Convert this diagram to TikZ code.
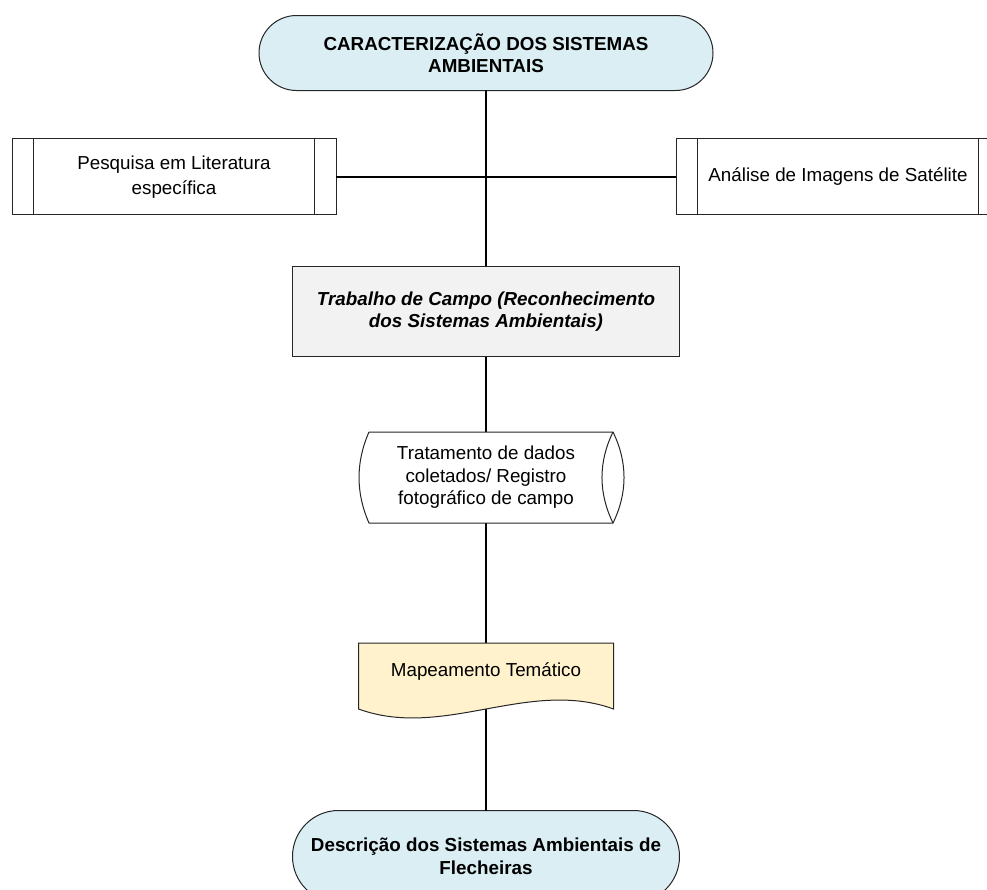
\documentclass[tikz,border=0pt]{standalone}
\usepackage{fontspec}
\setmainfont{Liberation Sans}
\usetikzlibrary{matrix,backgrounds}
\definecolor{termblue}{HTML}{DAEEF3}
\definecolor{campogray}{HTML}{F2F2F2}
\definecolor{mapayellow}{HTML}{FFF2CC}
\newcommand{\fsz}{\fontsize{18.8pt}{22.5pt}\selectfont}

\begin{document}
\begin{tikzpicture}[x=1pt,y=-1pt,
  every node/.style={align=center,inner sep=0pt,outer sep=0pt,font=\fsz},
  borda/.style={draw=black!85,line width=1pt},
  term/.style={borda,fill=termblue,font=\fsz\bfseries},
  predef/.style={borda,fill=white,minimum width=324pt,minimum height=76pt,
    font=\fontsize{18.8pt}{25.5pt}\selectfont,
    path picture={\draw[line width=1pt] ([xshift=21.5pt]path picture bounding box.north west) -- ([xshift=21.5pt]path picture bounding box.south west);
      \draw[line width=1pt] ([xshift=-21.5pt]path picture bounding box.north east) -- ([xshift=-21.5pt]path picture bounding box.south east);}},
  campo/.style={borda,fill=campogray,minimum width=387pt,minimum height=90pt,font=\fsz\bfseries\itshape},
  dados/.style={minimum width=254pt,minimum height=91pt},
  mapa/.style={minimum width=255pt,minimum height=66pt,text depth=12pt},
  liga/.style={draw=black,line width=1.6pt}]
  \useasboundingbox (0,0) rectangle (987,890);
  \matrix (m) [inner sep=0pt,outer sep=0pt,anchor=north] at (486,15) {
  \node[term,minimum width=454pt,minimum height=75pt,rounded corners=37.5pt] (cara) {CARACTERIZAÇÃO DOS SISTEMAS\\AMBIENTAIS}; \\[175pt]
  \node[campo] (campo) {Trabalho de Campo (Reconhecimento\\dos Sistemas Ambientais)}; \\[75pt]
  \node[dados] (trat) {Tratamento de dados\\coletados/ Registro\\fotográfico de campo}; \\[120pt]
  \node[mapa] (mapa) {Mapeamento Temático}; \\[101pt]
  \node[term,minimum width=387pt,minimum height=92pt,rounded corners=46pt] (desc) {Descrição dos Sistemas Ambientais de\\Flecheiras}; \\};
  \node[predef] (lit) at (174,177) {Pesquisa em Literatura\\específica};
  \node[predef] (sat) at (838,177) {Análise de Imagens de Satélite};
  \path[liga]
  (cara) edge (campo)
  (lit) edge (sat)
  (campo) edge (trat)
  (trat) edge (mapa)
  (mapa) edge (desc);
  % dados armazenados
  \draw[borda] ([xshift=10pt]trat.north west) -- (trat.north east)
    .. controls +(14.7,30) and +(14.7,-30) .. (trat.south east)
    -- ([xshift=10pt]trat.south west)
    .. controls +(-13.3,-30) and +(-13.3,30) .. ([xshift=10pt]trat.north west);
  \draw[borda] (trat.north east) .. controls +(-14.7,30) and +(-14.7,-30) .. (trat.south east);
  % documento
  \begin{scope}[on background layer]
  \fill[mapayellow] (mapa.north west) -- (mapa.north east) -- (mapa.south east)
    .. controls +(-85,-31) and +(85,31) .. (mapa.south west) -- cycle;
  \end{scope}
  \draw[borda] (mapa.north west) -- (mapa.north east) -- (mapa.south east)
    .. controls +(-85,-31) and +(85,31) .. (mapa.south west) -- cycle;
\end{tikzpicture}
\end{document}
